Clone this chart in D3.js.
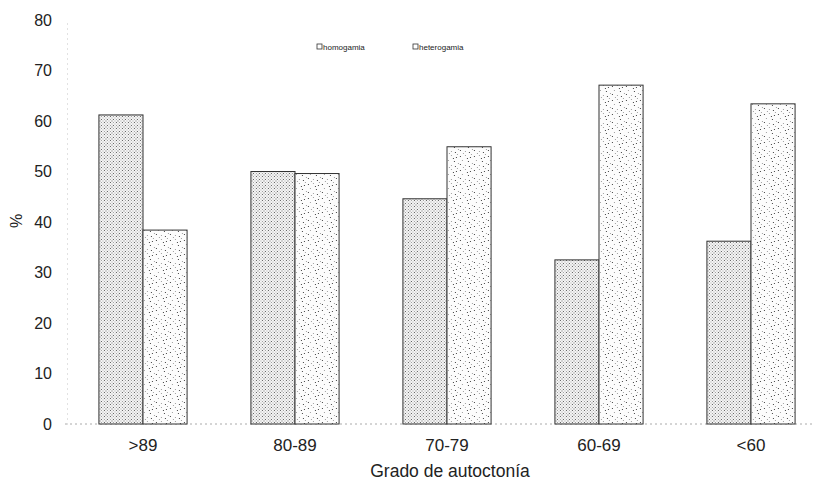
<!DOCTYPE html>
<html>
<head>
<meta charset="utf-8">
<script src="https://cdn.jsdelivr.net/npm/d3@7"></script>
<style>
  body { margin: 0; background: #fff; }
  text { font-family: "Liberation Sans", Arial, sans-serif; fill: #222; }
</style>
</head>
<body>
<script>
const categories = [">89", "80-89", "70-79", "60-69", "<60"];
const seriesNames = ["homogamia", "heterogamia"];
const homogamia = [61.2, 50.0, 44.6, 32.5, 36.2];
const heterogamia = [38.4, 49.6, 54.9, 67.1, 63.4];
const yTicks = [0, 10, 20, 30, 40, 50, 60, 70, 80];

main();

function main() {
  const width = 813;
  const height = 480;

  const svg = d3.select("body").append("svg")
    .attr("width", width)
    .attr("height", height);

  const defs = svg.append("defs");

  // dense stipple for homogamia
  const pDense = defs.append("pattern")
    .attr("id", "dense").attr("patternUnits", "userSpaceOnUse")
    .attr("width", 6).attr("height", 6);
  pDense.append("rect").attr("width", 6).attr("height", 6).attr("fill", "#f7f7f7");
  [[0.5,0.5],[3.5,0.5],[2,2],[5,2],[0.5,3.5],[3.5,3.5],[2,5],[5,5]].forEach(([x, y], i) => {
    pDense.append("rect").attr("x", x).attr("y", y).attr("width", 1).attr("height", 1)
      .attr("fill", i % 3 === 0 ? "#5a5a5a" : "#a0a0a0");
  });

  // sparse stipple for heterogamia
  const pSparse = defs.append("pattern")
    .attr("id", "sparse").attr("patternUnits", "userSpaceOnUse")
    .attr("width", 14).attr("height", 14);
  pSparse.append("rect").attr("width", 14).attr("height", 14).attr("fill", "#fcfcfc");
  [[1,2],[6,1],[11,3],[3,6],[9,7],[13,9],[1,10],[6,11],[10,12],[4,13],[8,4],[12,0]].forEach(([x, y], i) => {
    pSparse.append("rect").attr("x", x).attr("y", y).attr("width", 1).attr("height", 1)
      .attr("fill", i % 2 === 0 ? "#444" : "#a0a0a0");
  });

  const y = d3.scaleLinear().domain([0, 80]).range([424, 20]);
  const x = d3.scaleBand().domain(categories).range([67, 827])
    .paddingInner(0.42).paddingOuter(0.21);
  const xs = d3.scaleBand().domain(seriesNames).range([0, x.bandwidth()]);

  // y axis
  const yAxis = svg.append("g")
    .attr("transform", "translate(67,0)")
    .call(d3.axisLeft(y).tickValues(yTicks).tickSize(0).tickPadding(15));
  yAxis.select(".domain").attr("stroke", "#c4c4c4").attr("stroke-dasharray", "1,4");
  yAxis.selectAll("text").style("font-size", "16px")
    .style("font-family", "'Liberation Sans', Arial, sans-serif").attr("fill", "#222");

  // baseline
  svg.append("line")
    .attr("x1", 65).attr("x2", width)
    .attr("y1", y(0)).attr("y2", y(0))
    .attr("stroke", "#aaa").attr("stroke-dasharray", "2,3");

  const data = categories.map((c, i) => ({ c, values: [homogamia[i], heterogamia[i]] }));

  const groups = svg.selectAll(".grp").data(data).enter().append("g")
    .attr("transform", d => `translate(${x(d.c)},0)`);

  groups.selectAll("rect").data(d => d.values.map((v, j) => ({ v, s: seriesNames[j] })))
    .enter().append("rect")
    .attr("x", d => xs(d.s))
    .attr("y", d => y(d.v))
    .attr("width", xs.bandwidth())
    .attr("height", d => y(0) - y(d.v))
    .attr("fill", d => d.s === "homogamia" ? "url(#dense)" : "url(#sparse)")
    .attr("stroke", "#333")
    .attr("stroke-width", 1);

  // x axis labels
  const xAxis = svg.append("g")
    .attr("transform", `translate(0,${y(0)})`)
    .call(d3.axisBottom(x).tickSize(0).tickPadding(15));
  xAxis.select(".domain").remove();
  xAxis.selectAll("text").style("font-size", "17px")
    .style("font-family", "'Liberation Sans', Arial, sans-serif").attr("fill", "#222");

  // axis titles
  svg.append("text")
    .attr("x", 450).attr("y", 477)
    .attr("text-anchor", "middle")
    .style("font-size", "17.5px")
    .text("Grado de autoctonía");

  svg.append("text")
    .attr("transform", "translate(22,221) rotate(-90)")
    .attr("text-anchor", "middle")
    .style("font-size", "16px")
    .text("%");

  // legend
  const legendX = [317, 413];
  const legend = svg.selectAll(".leg").data(seriesNames).enter().append("g")
    .attr("transform", (d, i) => `translate(${legendX[i]},44)`);
  legend.append("rect")
    .attr("width", 5).attr("height", 5)
    .attr("fill", "none").attr("stroke", "#333").attr("stroke-width", 0.8);
  legend.append("text")
    .attr("x", 6).attr("y", 5.5)
    .style("font-size", "8px")
    .text(d => d);
}
</script>
</body>
</html>
